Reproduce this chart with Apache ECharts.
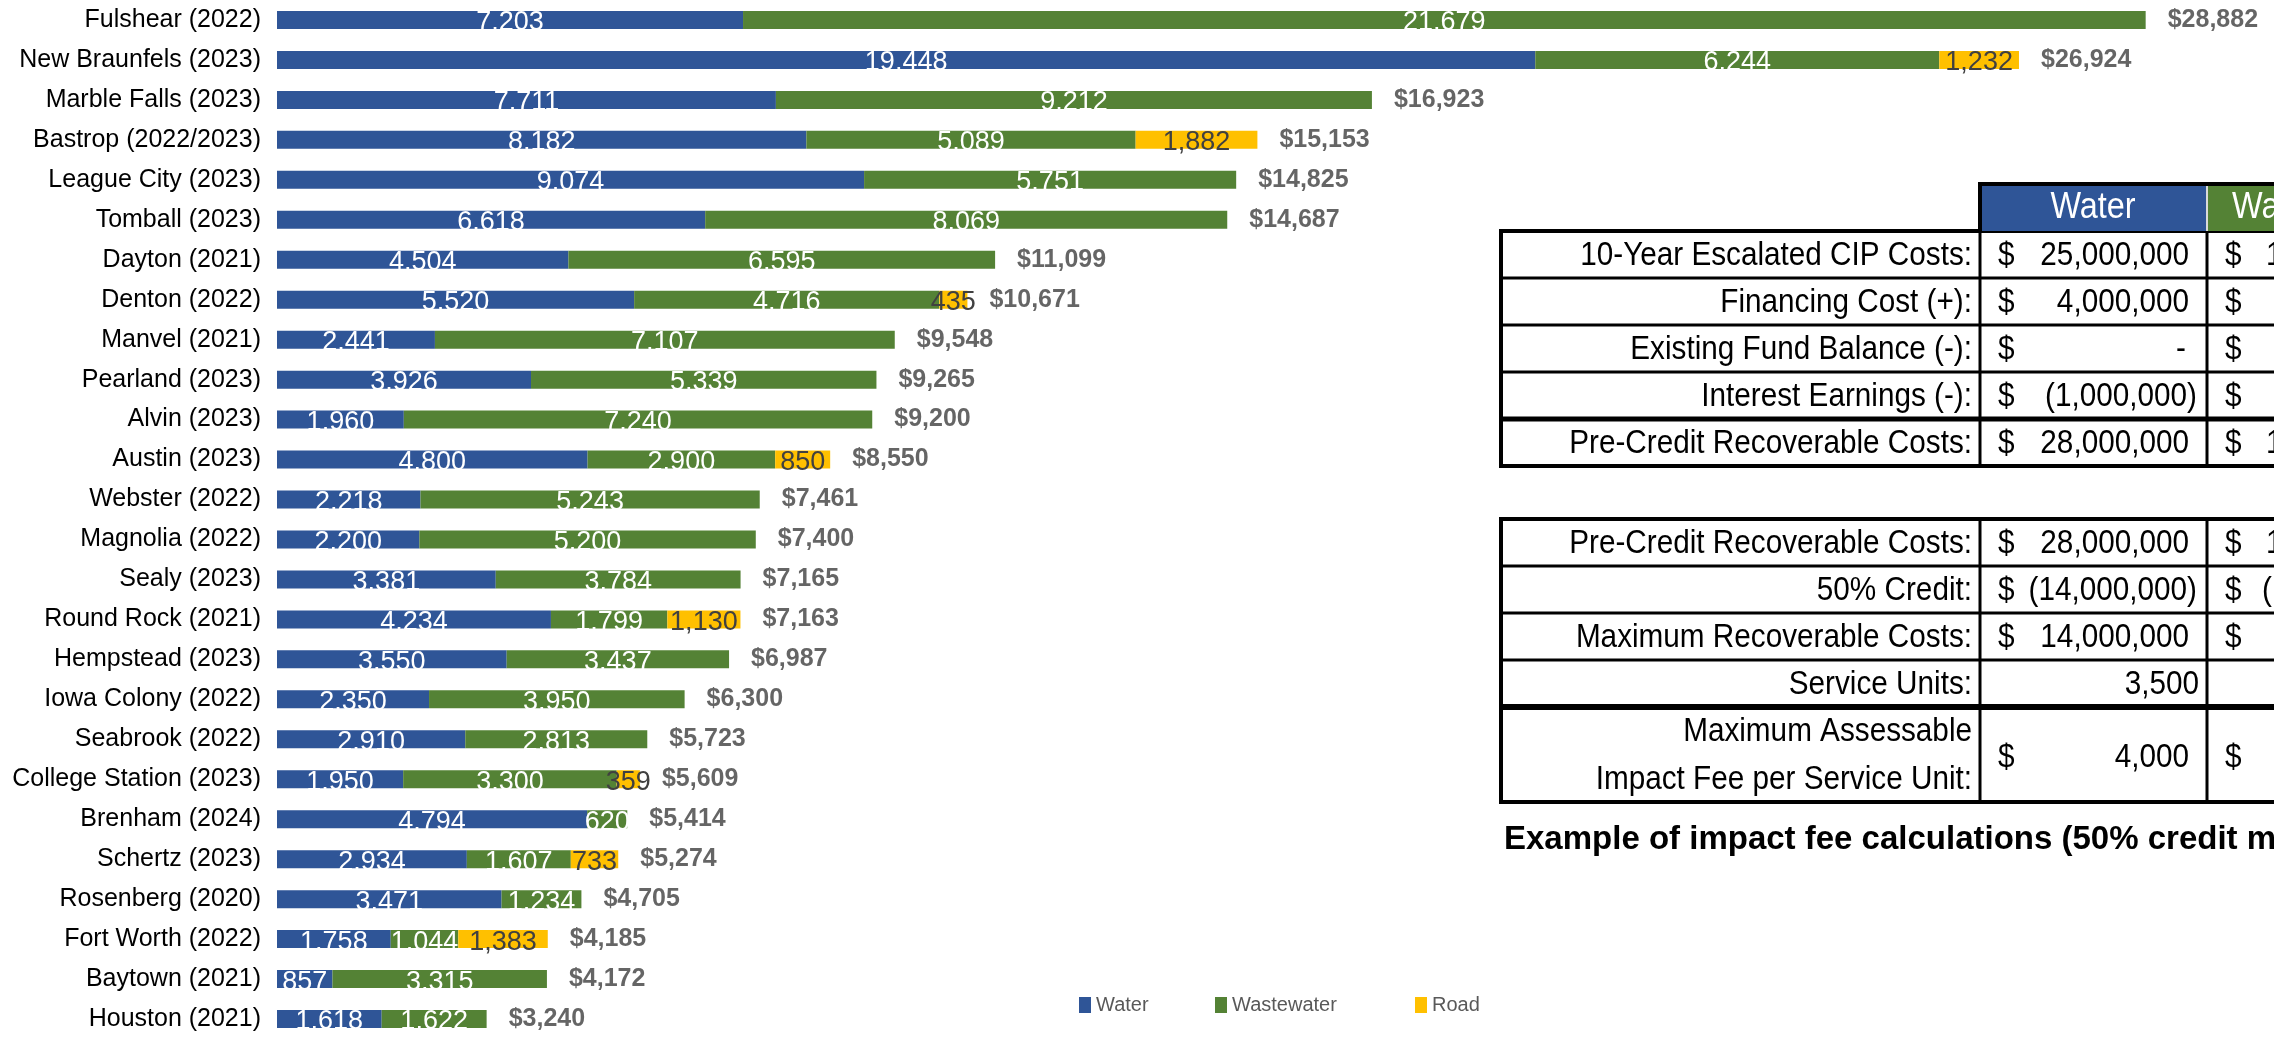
<!DOCTYPE html>
<html>
<head>
<meta charset="utf-8">
<title>Impact fees</title>
<script src="https://cdn.jsdelivr.net/npm/echarts/dist/echarts.min.js"></script>
<style>
  html, body { margin: 0; padding: 0; background: #fff; }
  #chart { width: 2274px; height: 1039px; }
</style>
</head>
<body>
<div id="chart"></div>
<script>
// impact fees by city, per service unit
const categories = ['Fulshear (2022)', 'New Braunfels (2023)', 'Marble Falls (2023)', 'Bastrop (2022/2023)',
  'League City (2023)', 'Tomball (2023)', 'Dayton (2021)', 'Denton (2022)', 'Manvel (2021)', 'Pearland (2023)',
  'Alvin (2023)', 'Austin (2023)', 'Webster (2022)', 'Magnolia (2022)', 'Sealy (2023)', 'Round Rock (2021)',
  'Hempstead (2023)', 'Iowa Colony (2022)', 'Seabrook (2022)', 'College Station (2023)', 'Brenham (2024)',
  'Schertz (2023)', 'Rosenberg (2020)', 'Fort Worth (2022)', 'Baytown (2021)', 'Houston (2021)'];
const water = [7203, 19448, 7711, 8182, 9074, 6618, 4504, 5520, 2441, 3926, 1960, 4800, 2218, 2200, 3381,
  4234, 3550, 2350, 2910, 1950, 4794, 2934, 3471, 1758, 857, 1618];
const wastewater = [21679, 6244, 9212, 5089, 5751, 8069, 6595, 4716, 7107, 5339, 7240, 2900, 5243, 5200, 3784,
  1799, 3437, 3950, 2813, 3300, 620, 1607, 1234, 1044, 3315, 1622];
const road = [null, 1232, null, 1882, null, null, null, 435, null, null, null, 850, null, null, null,
  1130, null, null, null, 359, null, 733, null, 1383, null, null];
const totals = [28882, 26924, 16923, 15153, 14825, 14687, 11099, 10671, 9548, 9265, 9200, 8550, 7461, 7400, 7165,
  7163, 6987, 6300, 5723, 5609, 5414, 5274, 4705, 4185, 4172, 3240];

// example table (right side)
const table1Labels = ['10-Year Escalated CIP Costs:', 'Financing Cost (+):', 'Existing Fund Balance (-):',
  'Interest Earnings (-):', 'Pre-Credit Recoverable Costs:'];
const table1Water = ['25,000,000', '4,000,000', '-', '(1,000,000)', '28,000,000'];
const table1Waste = ['1', '', '', '', '1'];
const table2Labels = ['Pre-Credit Recoverable Costs:', '50% Credit:', 'Maximum Recoverable Costs:', 'Service Units:'];
const table2Water = ['28,000,000', '(14,000,000)', '14,000,000', '3,500'];
const table2Waste = ['1', '(', '', ''];
const feeLabel = ['Maximum Assessable', 'Impact Fee per Service Unit:'];
const feeWater = '4,000';
const caption = 'Example of impact fee calculations (50% credit maximum)';

const BLUE = '#2F5597', GREEN = '#548235', YELLOW = '#FFC000';
const SANS = '"Liberation Sans", Arial, sans-serif';
const TFONT = '33px ' + SANS;

let myChart = echarts.init(document.getElementById('chart'));

// table text is a narrow face, so squeeze Liberation Sans a little
function txt(x, y, s, align, font, color, sx) {
  return {
    type: 'text', x: x, y: y, z: 10,
    scaleX: sx == null ? 0.9 : sx,
    style: {
      text: s, font: font || TFONT, fill: color || '#000',
      align: align || 'left', verticalAlign: 'middle',
      textAlign: align || 'left', textVerticalAlign: 'middle'
    }
  };
}
function hline(y, x1, x2, w) {
  return { type: 'line', z: 5, shape: { x1: x1, y1: y, x2: x2, y2: y }, style: { stroke: '#000', lineWidth: w } };
}
function vline(x, y1, y2, w) {
  return { type: 'line', z: 5, shape: { x1: x, y1: y1, x2: x, y2: y2 }, style: { stroke: '#000', lineWidth: w } };
}

const colL = 1501, colW = 1980, colG = 2207, edge = 2300;
let graphics = [];

// header
graphics.push({ type: 'rect', z: 4, shape: { x: colW, y: 184, width: colG - colW, height: 47 }, style: { fill: BLUE } });
graphics.push({ type: 'rect', z: 4, shape: { x: colG, y: 184, width: edge - colG, height: 47 }, style: { fill: GREEN } });
graphics.push({ type: 'line', z: 5, shape: { x1: colG, y1: 184, x2: colG, y2: 231 }, style: { stroke: '#d9d9d9', lineWidth: 2 } });
graphics.push(hline(184, colW - 2, edge, 4));
graphics.push(vline(colW, 182, 231, 4));
graphics.push(txt(2093, 208, 'Water', 'center', '36px ' + SANS, '#fff'));
graphics.push(txt(2232, 208, 'Wastewater', 'left', '36px ' + SANS, '#fff'));

// table 1
const t1Top = 231, rowH = 47;
graphics.push({ type: 'rect', z: 3, shape: { x: colL, y: t1Top, width: edge - colL, height: rowH * 5 },
  style: { fill: '#fff', stroke: '#000', lineWidth: 4 } });
graphics.push(vline(colW, t1Top, t1Top + rowH * 5, 3));
graphics.push(vline(colG, t1Top, t1Top + rowH * 5, 3));
for (let i = 1; i < 5; i++) graphics.push(hline(t1Top + rowH * i, colL, edge, i === 4 ? 5 : 3));
table1Labels.forEach(function (lab, i) {
  const cy = t1Top + rowH * i + rowH / 2 + 1;
  const v = table1Water[i];
  graphics.push(txt(1972, cy, lab, 'right'));
  graphics.push(txt(1998, cy, '$', 'left'));
  graphics.push(txt(v.charAt(0) === '(' ? 2197 : (v === '-' ? 2186 : 2189), cy, v, 'right'));
  graphics.push(txt(2225, cy, '$', 'left'));
  if (table1Waste[i]) graphics.push(txt(2266, cy, table1Waste[i], 'left'));
});

// table 2
const t2Top = 519;
graphics.push({ type: 'rect', z: 3, shape: { x: colL, y: t2Top, width: edge - colL, height: rowH * 4 + 95 },
  style: { fill: '#fff', stroke: '#000', lineWidth: 4 } });
graphics.push(vline(colW, t2Top, t2Top + rowH * 4 + 95, 3));
graphics.push(vline(colG, t2Top, t2Top + rowH * 4 + 95, 3));
for (let i = 1; i < 5; i++) graphics.push(hline(t2Top + rowH * i, colL, edge, i === 4 ? 6 : 3));
table2Labels.forEach(function (lab, i) {
  const cy = t2Top + rowH * i + rowH / 2 + 1;
  const v = table2Water[i];
  graphics.push(txt(1972, cy, lab, 'right'));
  if (i < 3) {
    graphics.push(txt(1998, cy, '$', 'left'));
    graphics.push(txt(v.charAt(0) === '(' ? 2197 : 2189, cy, v, 'right'));
    graphics.push(txt(2225, cy, '$', 'left'));
  } else {
    graphics.push(txt(2199, cy, v, 'right'));
  }
  if (table2Waste[i]) graphics.push(txt(i === 1 ? 2262 : 2266, cy, table2Waste[i], 'left'));
});
const feeTop = t2Top + rowH * 4;
graphics.push(txt(1972, feeTop + 25, feeLabel[0], 'right'));
graphics.push(txt(1972, feeTop + 73, feeLabel[1], 'right'));
graphics.push(txt(1998, feeTop + 51, '$', 'left'));
graphics.push(txt(2189, feeTop + 51, feeWater, 'right'));
graphics.push(txt(2225, feeTop + 51, '$', 'left'));

// caption
graphics.push(txt(1504, 840, caption, 'left', 'bold 33px ' + SANS, '#000', 1));

function innerLabel(color) {
  return {
    show: true,
    position: 'inside',
    offset: [0, 3],
    color: color,
    fontFamily: SANS,
    fontSize: 27,
    formatter: function (p) { return p.value == null ? '' : p.value.toLocaleString('en-US'); }
  };
}

function legendAt(name, left) {
  return {
    data: [name],
    left: left,
    top: 995,
    padding: 0,
    icon: 'rect',
    itemWidth: 12,
    itemHeight: 16,
    itemGap: 6,
    textStyle: { color: '#595959', fontFamily: SANS, fontSize: 20 }
  };
}

let options = {
  animation: false,
  backgroundColor: '#fff',
  legend: [
    legendAt('Water', 1079),
    legendAt('Wastewater', 1215),
    legendAt('Road', 1415)
  ],
  grid: {
    left: 277,
    top: -2,
    width: 1941,
    height: 1046
  },
  xAxis: {
    type: 'value',
    min: 0,
    max: 30000,
    show: false
  },
  yAxis: {
    type: 'category',
    data: categories,
    inverse: true,
    axisLine: { show: false },
    axisTick: { show: false },
    axisLabel: {
      color: '#000',
      fontFamily: SANS,
      fontSize: 25,
      margin: 16
    }
  },
  series: [
    {
      name: 'Water', type: 'bar', stack: 'fee', barWidth: 18,
      itemStyle: { color: BLUE },
      label: innerLabel('#fff'),
      data: water
    },
    {
      name: 'Wastewater', type: 'bar', stack: 'fee', barWidth: 18,
      itemStyle: { color: GREEN },
      label: innerLabel('#fff'),
      data: wastewater
    },
    {
      name: 'Road', type: 'bar', stack: 'fee', barWidth: 18,
      itemStyle: { color: YELLOW },
      label: innerLabel('#404040'),
      data: road
    },
    {
      name: 'Total', type: 'scatter', symbolSize: 0,
      label: {
        show: true,
        position: 'right',
        distance: 22,
        color: '#3F3F3F',
        fontFamily: SANS,
        fontWeight: 'bold',
        fontSize: 25,
        formatter: function (p) { return '$' + p.value[0].toLocaleString('en-US'); }
      },
      data: totals.map(function (t, i) { return [t, categories[i]]; })
    }
  ],
  graphic: graphics
};
myChart.setOption(options);
</script>
</body>
</html>
